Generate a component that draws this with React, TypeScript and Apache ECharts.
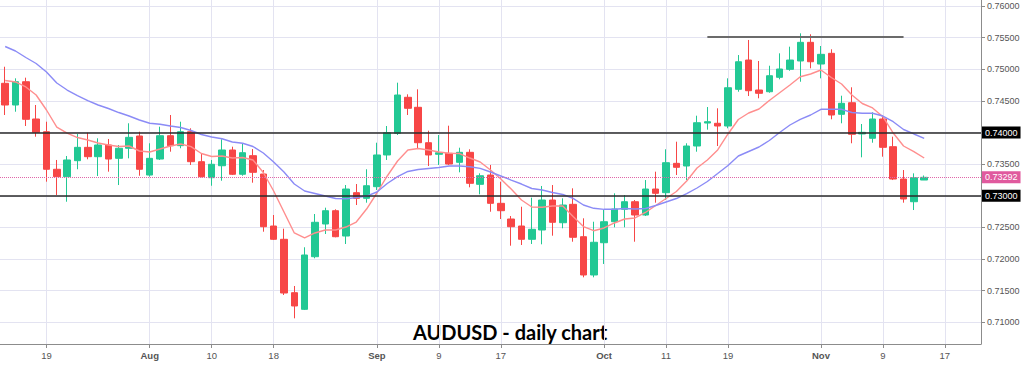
import React, { useEffect, useRef } from "react";
import * as echarts from "echarts";

const dates = [
  "2021-07-13","2021-07-14","2021-07-15","2021-07-16","2021-07-19","2021-07-20","2021-07-21","2021-07-22","2021-07-23","2021-07-26","2021-07-27","2021-07-28","2021-07-29","2021-07-30",
  "2021-08-02","2021-08-03","2021-08-04","2021-08-05","2021-08-06","2021-08-09","2021-08-10","2021-08-11","2021-08-12","2021-08-13","2021-08-16","2021-08-17","2021-08-18","2021-08-19","2021-08-20","2021-08-23","2021-08-24","2021-08-25","2021-08-26","2021-08-27","2021-08-30","2021-08-31",
  "2021-09-01","2021-09-02","2021-09-03","2021-09-06","2021-09-07","2021-09-08","2021-09-09","2021-09-10","2021-09-13","2021-09-14","2021-09-15","2021-09-16","2021-09-17","2021-09-20","2021-09-21","2021-09-22","2021-09-23","2021-09-24","2021-09-27","2021-09-28","2021-09-29","2021-09-30",
  "2021-10-01","2021-10-04","2021-10-05","2021-10-06","2021-10-07","2021-10-08","2021-10-11","2021-10-12","2021-10-13","2021-10-14","2021-10-15","2021-10-18","2021-10-19","2021-10-20","2021-10-21","2021-10-22","2021-10-25","2021-10-26","2021-10-27","2021-10-28","2021-10-29",
  "2021-11-01","2021-11-02","2021-11-03","2021-11-04","2021-11-05","2021-11-08","2021-11-09","2021-11-10","2021-11-11","2021-11-12","2021-11-15","2021-11-16","2021-11-17","2021-11-18","2021-11-19","2021-11-22",
];

const tickDates = ["2021-07-19","2021-08-02","2021-08-10","2021-08-18","2021-09-01","2021-09-09","2021-09-17","2021-10-01","2021-10-11","2021-10-19","2021-11-01","2021-11-09","2021-11-17"];
const tickTexts = ["19","Aug","10","18","Sep","9","17","Oct","11","19","Nov","9","17"];
const monthTexts = ["Aug","Sep","Oct","Nov"];

const open = [0.74778,0.74435,0.74803,0.74214,0.74013,0.73419,0.73302,0.73555,0.73766,0.73618,0.73803,0.73592,0.73751,0.73945,0.73328,0.73581,0.73950,0.73792,0.74013,0.73539,0.73286,0.73475,0.73724,0.73340,0.73634,0.73344,0.72522,0.72312,0.71468,0.71205,0.72037,0.72554,0.72764,0.72364,0.73049,0.72960,0.73144,0.73645,0.73988,0.74557,0.74399,0.73839,0.73656,0.73672,0.73529,0.73687,0.73181,0.73328,0.72881,0.72633,0.72522,0.72312,0.72459,0.72933,0.72574,0.72865,0.72353,0.71748,0.72258,0.72590,0.72786,0.72906,0.72696,0.73107,0.73049,0.73513,0.73471,0.73787,0.74150,0.74146,0.74103,0.74683,0.75146,0.74672,0.74645,0.74873,0.74999,0.75131,0.75426,0.75083,0.75252,0.74288,0.74471,0.73977,0.73909,0.74214,0.73776,0.73265,0.72906,0.73249];
const close = [0.74435,0.74803,0.74209,0.74003,0.73419,0.73302,0.73566,0.73766,0.73618,0.73803,0.73581,0.73751,0.73924,0.73419,0.73592,0.73950,0.73792,0.74013,0.73539,0.73302,0.73498,0.73724,0.73340,0.73681,0.73371,0.72511,0.72312,0.71463,0.71258,0.72064,0.72581,0.72764,0.72353,0.73107,0.72960,0.73159,0.73645,0.73997,0.74593,0.74383,0.73839,0.73645,0.73681,0.73502,0.73687,0.73197,0.73317,0.72881,0.72764,0.72511,0.72312,0.72470,0.72933,0.72581,0.72854,0.72344,0.71748,0.72265,0.72590,0.72791,0.72906,0.72696,0.73107,0.73039,0.73523,0.73450,0.73787,0.74155,0.74171,0.74103,0.74708,0.75119,0.74661,0.74620,0.74898,0.75004,0.75146,0.75426,0.75119,0.75236,0.74277,0.74462,0.73972,0.74003,0.74214,0.73766,0.73265,0.72949,0.73286,0.73292];
const low = [0.74277,0.74329,0.74103,0.73934,0.73223,0.73012,0.72906,0.73419,0.73577,0.73313,0.73381,0.73170,0.73592,0.73317,0.73302,0.73566,0.73697,0.73751,0.73487,0.73292,0.73159,0.73238,0.73328,0.73317,0.73207,0.72432,0.72301,0.71432,0.71063,0.71194,0.72012,0.72396,0.72344,0.72238,0.72854,0.72891,0.73091,0.73566,0.73961,0.74277,0.73751,0.73471,0.73487,0.73487,0.73371,0.73134,0.73023,0.72748,0.72633,0.72211,0.72222,0.72238,0.72233,0.72369,0.72486,0.72274,0.71711,0.71711,0.71922,0.72502,0.72502,0.72274,0.72680,0.72891,0.72933,0.73328,0.73249,0.73697,0.74045,0.73787,0.74067,0.74645,0.74577,0.74541,0.74629,0.74841,0.74977,0.74803,0.75015,0.74857,0.74209,0.74146,0.73830,0.73608,0.73839,0.73618,0.73249,0.72891,0.72775,0.73249];
const high = [0.75040,0.74857,0.74867,0.74435,0.74171,0.73566,0.73629,0.73977,0.73997,0.73909,0.73898,0.73803,0.74146,0.74013,0.73830,0.74092,0.74277,0.74171,0.74067,0.73660,0.73566,0.73893,0.73776,0.73830,0.73739,0.73407,0.72696,0.72480,0.71574,0.72186,0.72712,0.72812,0.72786,0.73170,0.73186,0.73419,0.73839,0.74103,0.74788,0.74604,0.74683,0.74029,0.73961,0.74108,0.73760,0.73735,0.73355,0.73487,0.73223,0.72680,0.72827,0.72970,0.73155,0.73170,0.72960,0.73118,0.72644,0.72590,0.72775,0.73039,0.73012,0.72933,0.73249,0.73381,0.73735,0.73855,0.73830,0.74266,0.74403,0.74383,0.74857,0.75225,0.75463,0.75131,0.75056,0.75252,0.75357,0.75568,0.75553,0.75368,0.75316,0.74582,0.74715,0.74135,0.74320,0.74261,0.73934,0.73407,0.73355,0.73321];

const maFast = [0.74822,0.74799,0.74720,0.74593,0.74356,0.74087,0.73992,0.73921,0.73882,0.73834,0.73803,0.73779,0.73787,0.73708,0.73692,0.73739,0.73787,0.73818,0.73776,0.73668,0.73621,0.73629,0.73597,0.73605,0.73566,0.73368,0.73076,0.72744,0.72412,0.72333,0.72412,0.72459,0.72459,0.72506,0.72585,0.72791,0.73044,0.73313,0.73550,0.73724,0.73747,0.73724,0.73692,0.73672,0.73668,0.73597,0.73534,0.73407,0.73265,0.73107,0.72933,0.72823,0.72818,0.72838,0.72838,0.72672,0.72514,0.72448,0.72491,0.72570,0.72633,0.72649,0.72736,0.72846,0.72957,0.73068,0.73234,0.73439,0.73566,0.73724,0.73977,0.74206,0.74309,0.74372,0.74506,0.74629,0.74751,0.74882,0.74925,0.74988,0.74870,0.74767,0.74593,0.74459,0.74388,0.74250,0.73992,0.73787,0.73697,0.73597];
const maSlow = [0.75360,0.75289,0.75186,0.75091,0.74957,0.74783,0.74672,0.74585,0.74506,0.74435,0.74380,0.74316,0.74261,0.74198,0.74146,0.74131,0.74103,0.74079,0.74032,0.73969,0.73929,0.73902,0.73850,0.73831,0.73779,0.73676,0.73534,0.73376,0.73186,0.73076,0.73036,0.72996,0.72957,0.72952,0.72973,0.72996,0.73060,0.73194,0.73302,0.73384,0.73415,0.73431,0.73447,0.73471,0.73471,0.73458,0.73434,0.73376,0.73313,0.73249,0.73186,0.73115,0.73091,0.73052,0.73020,0.72960,0.72854,0.72802,0.72786,0.72786,0.72799,0.72791,0.72799,0.72846,0.72902,0.72957,0.73036,0.73123,0.73226,0.73352,0.73479,0.73629,0.73700,0.73771,0.73874,0.74000,0.74119,0.74209,0.74277,0.74367,0.74367,0.74367,0.74316,0.74304,0.74304,0.74261,0.74171,0.74048,0.73977,0.73909];

const levels = [0.74, 0.73];
const lastPrice = 0.73292;
const resistance = 0.7551;
const resistanceFrom = "2021-10-15";
const resistanceTo = "2021-11-11";
const yMin = 0.70657;
const yMax = 0.76095;
const title = "AUDUSD - daily chart";

const GREEN = "#22c894";
const RED = "#f74646";
const GRID = "#e3e3f1";
const AXIS_TEXT = "#555555";
const FONT = "Liberation Sans, Arial, sans-serif";

export default function App() {
  const ref = useRef<HTMLDivElement>(null);
  useEffect(() => {
    if (!ref.current) return;
    document.body.style.margin = "0";
    const chart = echarts.init(ref.current, null, { renderer: "svg" });
    const isTick = (i: number) => tickDates.indexOf(dates[i]) >= 0;
    const candleData = open.map((o, i) => [o, close[i], low[i], high[i]]);
    const tagLabel = (bg: string) => ({
      show: true,
      position: "end",
      distance: 1,
      formatter: (p: any) => Number(p.value).toFixed(5),
      backgroundColor: bg,
      color: "#ffffff",
      fontSize: 9,
      fontFamily: FONT,
      padding: [2, 3, 1, 3],
    });
    const option: any = {
      animation: false,
      backgroundColor: "#ffffff",
      grid: { left: 0, right: 43, top: 0, bottom: 21, containLabel: false, outerBoundsMode: "none" },
      xAxis: {
        type: "category",
        data: dates,
        boundaryGap: true,
        axisLine: { show: true, lineStyle: { color: "#8c8c8c", width: 1 } },
        axisTick: { show: true, interval: (i: number) => isTick(i), alignWithLabel: true, length: 4, lineStyle: { color: "#8c8c8c" } },
        axisLabel: {
          interval: (i: number) => isTick(i),
          formatter: (v: string) => {
            const t = tickTexts[tickDates.indexOf(v)];
            return monthTexts.indexOf(t) >= 0 ? "{m|" + t + "}" : t;
          },
          color: AXIS_TEXT,
          fontSize: 9.5,
          fontFamily: FONT,
          margin: 6,
          rich: { m: { fontWeight: "bold", fontSize: 9.5, color: AXIS_TEXT, fontFamily: FONT } },
        },
        splitLine: { show: true, interval: (i: number) => isTick(i), alignWithLabel: true, lineStyle: { color: GRID, width: 1 } },
      },
      yAxis: {
        type: "value",
        position: "right",
        min: yMin,
        max: yMax,
        splitNumber: 10,
        scale: true,
        axisLine: { show: true, lineStyle: { color: "#8c8c8c", width: 1 } },
        axisTick: { show: true, length: 4, lineStyle: { color: "#8c8c8c" } },
        axisLabel: {
          formatter: (v: number) => v.toFixed(5),
          showMinLabel: false,
          showMaxLabel: false,
          color: AXIS_TEXT,
          fontSize: 9,
          fontFamily: FONT,
          margin: 6,
        },
        splitLine: { show: true, showMinLine: false, showMaxLine: false, lineStyle: { color: GRID, width: 1 } },
      },
      series: [
        {
          type: "candlestick",
          data: candleData,
          barWidth: 7,
          itemStyle: { color: GREEN, color0: RED, borderColor: GREEN, borderColor0: RED, borderWidth: 1 },
          markLine: {
            silent: true,
            precision: 5,
            symbol: ["none", "none"],
            animation: false,
            data: [
              { yAxis: levels[0], lineStyle: { color: "#2a2a2a", width: 1.5, type: "solid" }, label: tagLabel("#000000") },
              { yAxis: levels[1], lineStyle: { color: "#2a2a2a", width: 1.5, type: "solid" }, label: tagLabel("#000000") },
              { yAxis: lastPrice, lineStyle: { color: "#e066a8", width: 1, type: "dotted" }, label: tagLabel("#e05a9e") },
              [
                { coord: [resistanceFrom, resistance], lineStyle: { color: "#6b6b6b", width: 2, type: "solid" }, label: { show: false } },
                { coord: [resistanceTo, resistance] },
              ],
            ],
          },
        },
        {
          type: "line",
          data: maFast,
          showSymbol: false,
          symbol: "none",
          smooth: false,
          lineStyle: { color: "#ff8e8e", width: 1.4 },
          z: 3,
        },
        {
          type: "line",
          data: maSlow,
          showSymbol: false,
          symbol: "none",
          smooth: false,
          lineStyle: { color: "#8b8bf6", width: 1.4 },
          z: 3,
        },
      ],
      graphic: [
        {
          type: "text",
          x: 510,
          y: 332,
          style: {
            text: title,
            textAlign: "center",
            textVerticalAlign: "middle",
            font: "bold 20px Lato, 'Open Sans', sans-serif",
            fill: "#000000",
          },
        },
      ],
    };
    chart.setOption(option);
    return () => chart.dispose();
  }, []);
  return <div ref={ref} style={{ position: "fixed", left: 0, top: 0, width: 1024, height: 365 }} />;
}
